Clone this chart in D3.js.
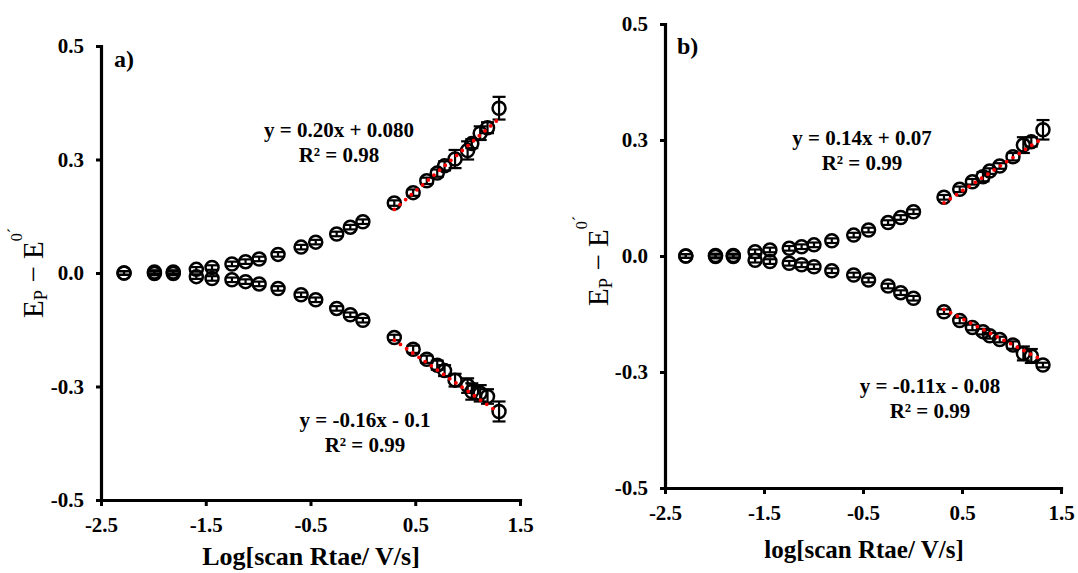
<!DOCTYPE html>
<html>
<head>
<meta charset="utf-8">
<script src="https://cdn.jsdelivr.net/npm/d3@7"></script>
<style>
  html, body { margin: 0; padding: 0; background: #fff; }
  svg { display: block; }
  text { font-family: "Liberation Serif", "Times New Roman", serif; fill: #000; }
</style>
</head>
<body>
<svg id="chart" width="1078" height="573"></svg>
<script>
// ---- data: peak potential shift vs log(scan rate) ----
// panel a
const logScanA = [-2.28, -1.99, -1.81, -1.59, -1.44, -1.25, -1.12, -0.99, -0.81, -0.59, -0.45, -0.25, -0.12, 0.0,
                  0.30, 0.48, 0.61, 0.71, 0.78, 0.88, 1.00, 1.04, 1.12, 1.19, 1.30];
const anodicA = [0.000, 0.002, 0.002, 0.008, 0.012, 0.020, 0.025, 0.031, 0.041, 0.057, 0.068, 0.086, 0.101, 0.113,
                 0.154, 0.177, 0.203, 0.220, 0.236, 0.251, 0.270, 0.285, 0.308, 0.320, 0.363];
const anodicErrA = [0.004, 0.004, 0.004, 0.005, 0.005, 0.005, 0.005, 0.005, 0.005, 0.005, 0.005, 0.005, 0.005, 0.005,
                    0.006, 0.007, 0.007, 0.008, 0.010, 0.020, 0.020, 0.010, 0.015, 0.012, 0.025];
const cathodicA = [0.000, -0.001, -0.001, -0.008, -0.012, -0.015, -0.019, -0.024, -0.034, -0.048, -0.059, -0.078, -0.092, -0.104,
                   -0.142, -0.168, -0.190, -0.203, -0.215, -0.236, -0.248, -0.261, -0.265, -0.272, -0.305];
const cathodicErrA = [0.004, 0.004, 0.004, 0.005, 0.005, 0.005, 0.005, 0.005, 0.005, 0.005, 0.005, 0.005, 0.005, 0.005,
                      0.006, 0.008, 0.008, 0.010, 0.012, 0.014, 0.016, 0.018, 0.018, 0.016, 0.022];

// panel b
const logScanB = [-2.29, -1.99, -1.81, -1.59, -1.44, -1.245, -1.12, -0.995, -0.815, -0.594, -0.444, -0.247, -0.119, 0.01,
                  0.318, 0.477, 0.605, 0.712, 0.78, 0.881, 1.015, 1.12, 1.20, 1.318];
const anodicB = [0.000, 0.001, 0.001, 0.009, 0.013, 0.0165, 0.020, 0.024, 0.033, 0.045, 0.056, 0.072, 0.083, 0.0955,
                 0.1265, 0.1437, 0.160, 0.171, 0.183, 0.194, 0.214, 0.239, 0.246, 0.272];
const anodicErrB = [0.004, 0.004, 0.004, 0.005, 0.005, 0.005, 0.005, 0.005, 0.005, 0.005, 0.005, 0.005, 0.005, 0.005,
                    0.005, 0.006, 0.006, 0.010, 0.006, 0.006, 0.008, 0.017, 0.010, 0.021];
const cathodicB = [0.000, -0.001, -0.001, -0.009, -0.012, -0.0157, -0.019, -0.023, -0.0317, -0.041, -0.0517, -0.0647, -0.079, -0.091,
                   -0.120, -0.139, -0.154, -0.163, -0.172, -0.180, -0.192, -0.210, -0.2155, -0.235];
const cathodicErrB = [0.004, 0.004, 0.004, 0.005, 0.005, 0.005, 0.005, 0.005, 0.005, 0.005, 0.005, 0.005, 0.005, 0.005,
                      0.005, 0.006, 0.006, 0.006, 0.006, 0.006, 0.008, 0.015, 0.015, 0.005];

// linear fits of the high scan-rate region: [slope, intercept]
const fitUpperA = [0.20, 0.080];
const fitLowerA = [-0.16, -0.1];
const fitUpperB = [0.14, 0.07];
const fitLowerB = [-0.11, -0.08];
const fitRangeA = [0.30, 1.30];
const fitRangeB = [0.318, 1.318];

const eqUpperA = ["y = 0.20x + 0.080", "R² = 0.98"];
const eqLowerA = ["y = -0.16x - 0.1", "R² = 0.99"];
const eqUpperB = ["y = 0.14x + 0.07", "R² = 0.99"];
const eqLowerB = ["y = -0.11x - 0.08", "R² = 0.99"];

// axes
const xTickValues = [-2.5, -1.5, -0.5, 0.5, 1.5];
const xTickLabels = ["-2.5", "-1.5", "-0.5", "0.5", "1.5"];
const yTickValues = [-0.5, -0.25, 0, 0.25, 0.5];
const yTickLabels = ["-0.5", "-0.3", "0.0", "0.3", "0.5"];

const svg = d3.select("#chart");
svg.append("rect").attr("width", 1078).attr("height", 573).attr("fill", "#fff");

function drawPanel(p) {
  const g = svg.append("g");
  const x = d3.scaleLinear().domain([-2.5, 1.5]).range([p.left, p.right]);
  const y = d3.scaleLinear().domain([-0.5, 0.5]).range([p.bottom, p.top]);

  const xAxis = d3.axisBottom(x).tickValues(xTickValues)
    .tickFormat((d, i) => xTickLabels[i]).tickSize(6).tickSizeOuter(0).tickPadding(11);
  const yAxis = d3.axisLeft(y).tickValues(yTickValues)
    .tickFormat((d, i) => yTickLabels[i]).tickSize(5).tickSizeOuter(0).tickPadding(12);

  const gx = g.append("g").attr("transform", `translate(0,${p.bottom})`).call(xAxis);
  const gy = g.append("g").attr("transform", `translate(${p.left},0)`).call(yAxis);
  [gx, gy].forEach(a => {
    a.select(".domain").attr("stroke", "#000").attr("stroke-width", 3.2).attr("stroke-linecap", "square");
    a.selectAll(".tick line").attr("stroke", "#000").attr("stroke-width", 3);
    a.selectAll(".tick text").attr("font-size", 21).attr("font-weight", "bold")
      .attr("font-family", "Liberation Serif, Times New Roman, serif").attr("fill", "#000");
  });

  // series: markers with error bars
  const series = [
    { xs: p.xs, ys: p.up, es: p.upErr },
    { xs: p.xs, ys: p.lo, es: p.loErr }
  ];
  const cap = 6.5;
  series.forEach(s => {
    const pts = s.xs.map((v, i) => ({ x: v, y: s.ys[i], e: s.es[i] }));
    const eg = g.append("g").attr("stroke", "#000").attr("stroke-width", 2.2).attr("fill", "none");
    pts.forEach(d => {
      const cx = x(d.x), y1 = y(d.y + d.e), y2 = y(d.y - d.e);
      eg.append("line").attr("x1", cx).attr("x2", cx).attr("y1", y1).attr("y2", y2);
      eg.append("line").attr("x1", cx - cap).attr("x2", cx + cap).attr("y1", y1).attr("y2", y1);
      eg.append("line").attr("x1", cx - cap).attr("x2", cx + cap).attr("y1", y2).attr("y2", y2);
    });
    g.append("g").selectAll("circle").data(pts).join("circle")
      .attr("cx", d => x(d.x)).attr("cy", d => y(d.y)).attr("r", 6.5)
      .attr("fill", "none").attr("stroke", "#000").attr("stroke-width", 2.5);
  });

  // dotted red trendlines
  [p.fitUp, p.fitLo].forEach(f => {
    const xs = p.fitRange;
    g.append("line")
      .attr("x1", x(xs[0])).attr("y1", y(f[0] * xs[0] + f[1]))
      .attr("x2", x(xs[1])).attr("y2", y(f[0] * xs[1] + f[1]))
      .attr("stroke", "#ff0000").attr("stroke-width", 3.8)
      .attr("stroke-linecap", "round").attr("stroke-dasharray", "0 7.5");
  });

  // equations
  [[p.eqUp, p.eqUpPos], [p.eqLo, p.eqLoPos]].forEach(([lines, pos]) => {
    lines.forEach((t, i) => {
      g.append("text").attr("x", pos[0]).attr("y", pos[1] + i * 25).attr("fill", "#000")
        .attr("text-anchor", "middle").attr("font-size", 21).attr("font-weight", "bold").text(t);
    });
  });

  // panel tag
  g.append("text").attr("x", p.tagPos[0]).attr("y", p.tagPos[1]).attr("fill", "#000")
    .attr("font-size", 24).attr("font-weight", "bold").text(p.tag);

  // x-axis title
  g.append("text").attr("x", p.xTitlePos[0]).attr("y", p.xTitlePos[1]).attr("fill", "#000")
    .attr("text-anchor", "middle").attr("font-size", p.xTitleSize).attr("font-weight", "bold").text(p.xTitle);

  // y-axis title: E_P − E^0´
  const yt = g.append("text")
    .attr("transform", `translate(${p.yTitlePos[0]},${p.yTitlePos[1]}) rotate(-90)`)
    .attr("text-anchor", "middle").attr("font-size", 29).attr("fill", "#000");
  yt.append("tspan").attr("fill", "#000").text("E");
  yt.append("tspan").attr("fill", "#000").attr("font-size", 19).attr("dy", 4).text("P");
  yt.append("tspan").attr("fill", "#000").attr("dy", -4).text(" \u2212 E");
  yt.append("tspan").attr("fill", "#000").attr("font-size", 16).attr("dy", -21).text("0");
  yt.append("tspan").attr("fill", "#000").attr("font-size", 16).attr("dy", -3).text("\u00b4");
}

drawPanel({
  left: 101, right: 520, top: 46, bottom: 500,
  xs: logScanA, up: anodicA, upErr: anodicErrA, lo: cathodicA, loErr: cathodicErrA,
  fitUp: fitUpperA, fitLo: fitLowerA, fitRange: fitRangeA,
  eqUp: eqUpperA, eqUpPos: [339, 137], eqLo: eqLowerA, eqLoPos: [365, 427],
  tag: "a)", tagPos: [114, 67],
  xTitle: "Log[scan Rtae/ V/s]", xTitlePos: [311, 565], xTitleSize: 26,
  yTitlePos: [43, 273]
});

drawPanel({
  left: 665, right: 1061, top: 24, bottom: 488,
  xs: logScanB, up: anodicB, upErr: anodicErrB, lo: cathodicB, loErr: cathodicErrB,
  fitUp: fitUpperB, fitLo: fitLowerB, fitRange: fitRangeB,
  eqUp: eqUpperB, eqUpPos: [862, 145], eqLo: eqLowerB, eqLoPos: [930, 393],
  tag: "b)", tagPos: [677, 54],
  xTitle: "log[scan Rtae/ V/s]", xTitlePos: [864, 558], xTitleSize: 25,
  yTitlePos: [608, 261]
});
</script>
</body>
</html>
